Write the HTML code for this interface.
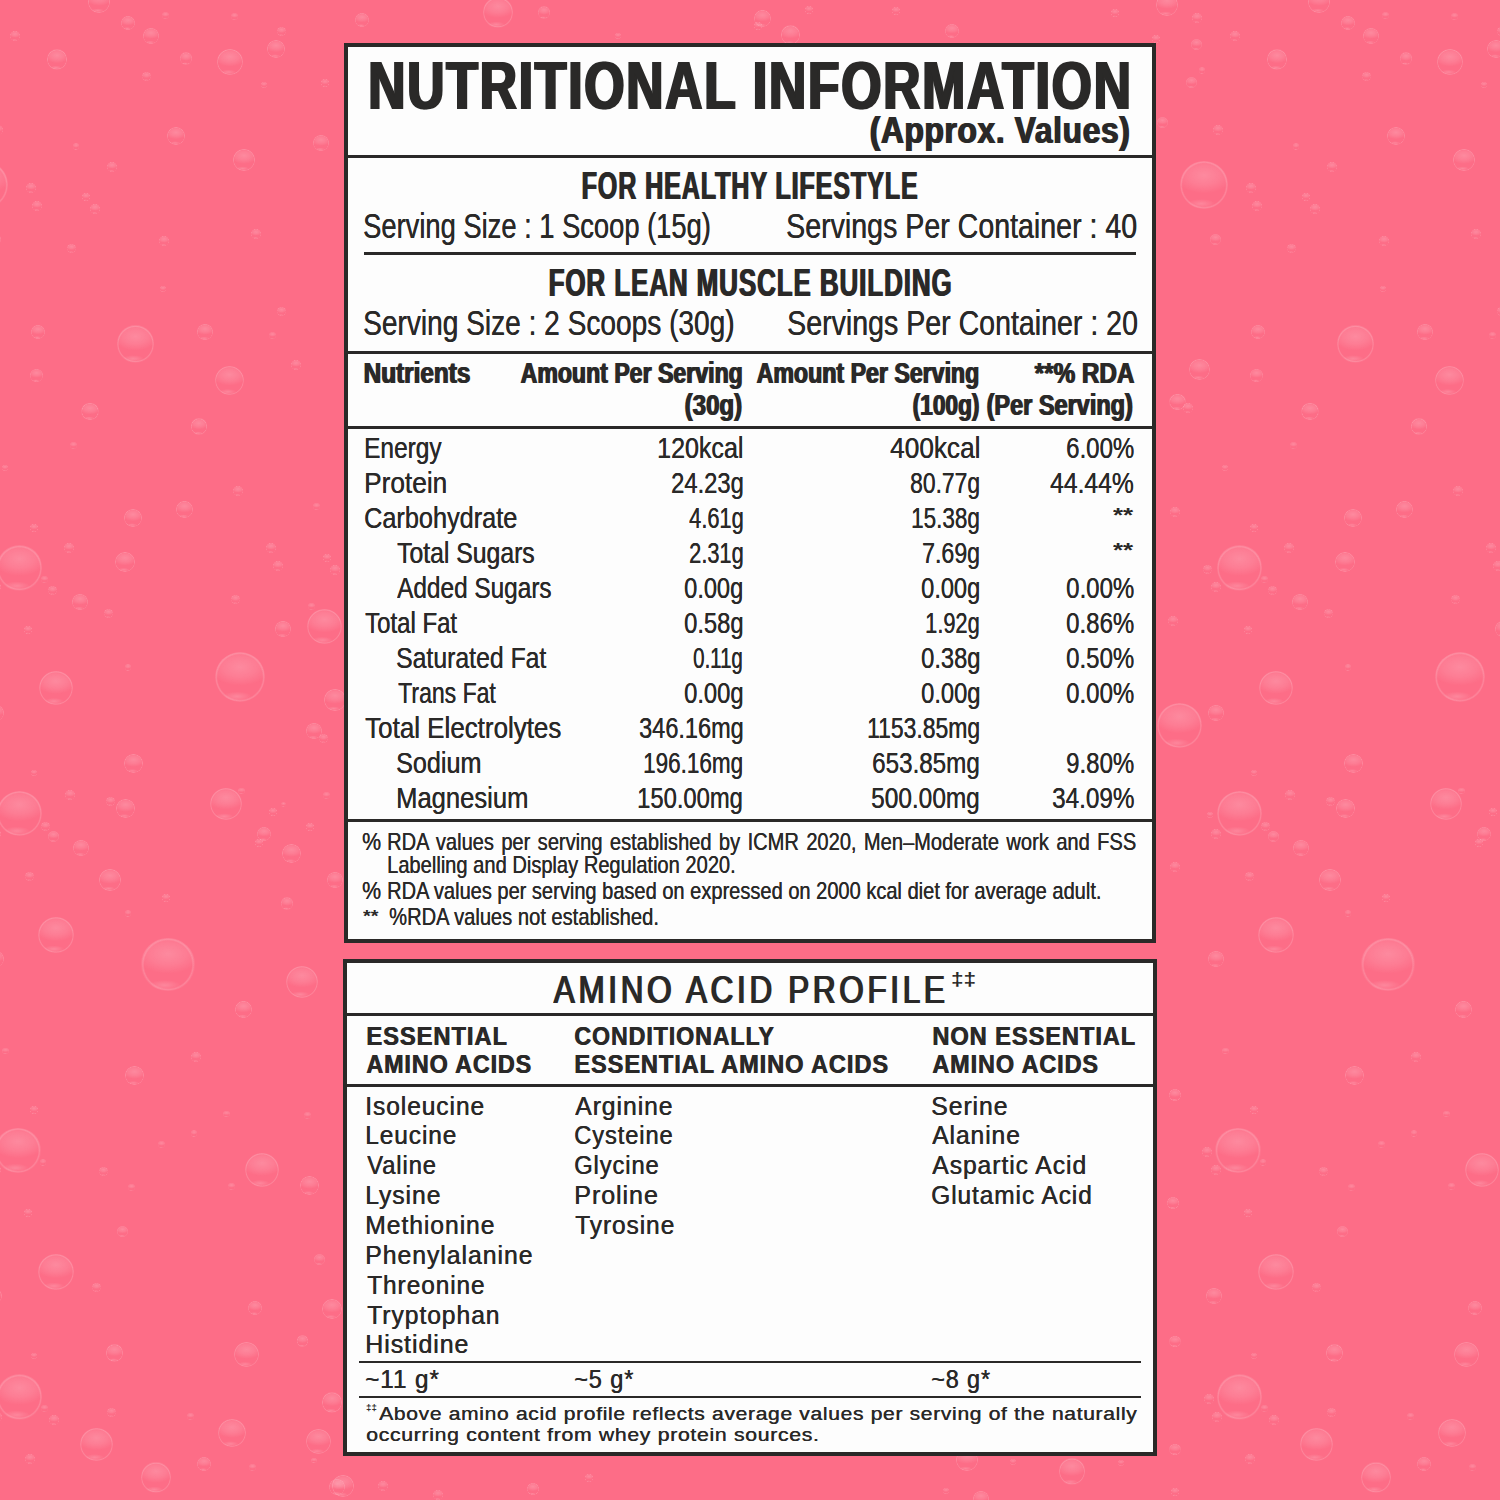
<!DOCTYPE html>
<html><head><meta charset="utf-8"><title>Nutritional Information</title>
<style>
html,body{margin:0;padding:0;}
body{width:1500px;height:1500px;overflow:hidden;position:relative;background:#fd6d87;font-family:"Liberation Sans",sans-serif;color:#2a2928;}
.panel{position:absolute;background:#fdfdfd;border:4px solid #2a2928;box-sizing:border-box;}
.ln{position:absolute;background:#2a2928;}
.b{position:absolute;border-radius:50%;
background:radial-gradient(ellipse 62% 38% at 50% 30%,rgba(255,255,255,.2),rgba(255,255,255,.11) 55%,rgba(255,255,255,0) 100%),
radial-gradient(ellipse 30% 10% at 44% 89%,rgba(255,255,255,.18),rgba(255,255,255,0) 100%),
radial-gradient(circle closest-side,rgba(255,255,255,0) 89%,rgba(255,255,255,.17) 95%,rgba(255,255,255,.05) 100%);}
#txt span{position:absolute;white-space:pre;line-height:1;transform-origin:0 0;}
</style></head>
<body>
<i class="b" style="left:46.5px;top:49.2px;width:20.4px;height:20.4px"></i>
<i class="b" style="left:1266.5px;top:49.2px;width:20.4px;height:20.4px"></i>
<i class="b" style="left:216.7px;top:49.4px;width:26.0px;height:26.0px"></i>
<i class="b" style="left:1436.7px;top:49.4px;width:26.0px;height:26.0px"></i>
<i class="b" style="left:267.0px;top:40.4px;width:18.0px;height:18.0px"></i>
<i class="b" style="left:1487.0px;top:40.4px;width:18.0px;height:18.0px"></i>
<i class="b" style="left:142.8px;top:28.3px;width:16.0px;height:16.0px"></i>
<i class="b" style="left:1362.8px;top:28.3px;width:16.0px;height:16.0px"></i>
<i class="b" style="left:121.0px;top:15.7px;width:14.0px;height:14.0px"></i>
<i class="b" style="left:1341.0px;top:15.7px;width:14.0px;height:14.0px"></i>
<i class="b" style="left:179.7px;top:52.2px;width:12.6px;height:12.6px"></i>
<i class="b" style="left:1399.7px;top:52.2px;width:12.6px;height:12.6px"></i>
<i class="b" style="left:87.6px;top:-8.7px;width:22.0px;height:22.0px"></i>
<i class="b" style="left:1307.6px;top:-8.7px;width:22.0px;height:22.0px"></i>
<i class="b" style="left:9.7px;top:31.3px;width:10.0px;height:10.0px"></i>
<i class="b" style="left:1229.7px;top:31.3px;width:10.0px;height:10.0px"></i>
<i class="b" style="left:162.0px;top:12.4px;width:7.0px;height:7.0px"></i>
<i class="b" style="left:1382.0px;top:12.4px;width:7.0px;height:7.0px"></i>
<i class="b" style="left:231.2px;top:12.8px;width:7.0px;height:7.0px"></i>
<i class="b" style="left:1451.2px;top:12.8px;width:7.0px;height:7.0px"></i>
<i class="b" style="left:276.5px;top:27.2px;width:9.0px;height:9.0px"></i>
<i class="b" style="left:1496.5px;top:27.2px;width:9.0px;height:9.0px"></i>
<i class="b" style="left:141.5px;top:71.5px;width:9.0px;height:9.0px"></i>
<i class="b" style="left:1361.5px;top:71.5px;width:9.0px;height:9.0px"></i>
<i class="b" style="left:261.0px;top:82.0px;width:6.0px;height:6.0px"></i>
<i class="b" style="left:1481.0px;top:82.0px;width:6.0px;height:6.0px"></i>
<i class="b" style="left:320.7px;top:78.8px;width:8.0px;height:8.0px"></i>
<i class="b" style="left:166.7px;top:126.6px;width:18.0px;height:18.0px"></i>
<i class="b" style="left:1386.7px;top:126.6px;width:18.0px;height:18.0px"></i>
<i class="b" style="left:312.9px;top:134.9px;width:16.0px;height:16.0px"></i>
<i class="b" style="left:232.8px;top:148.9px;width:22.0px;height:22.0px"></i>
<i class="b" style="left:1452.8px;top:148.9px;width:22.0px;height:22.0px"></i>
<i class="b" style="left:107.2px;top:161.7px;width:10.0px;height:10.0px"></i>
<i class="b" style="left:1327.2px;top:161.7px;width:10.0px;height:10.0px"></i>
<i class="b" style="left:72.6px;top:142.9px;width:6.8px;height:6.8px"></i>
<i class="b" style="left:1292.6px;top:142.9px;width:6.8px;height:6.8px"></i>
<i class="b" style="left:25.6px;top:183.2px;width:10.0px;height:10.0px"></i>
<i class="b" style="left:1245.6px;top:183.2px;width:10.0px;height:10.0px"></i>
<i class="b" style="left:32.4px;top:201.3px;width:10.0px;height:10.0px"></i>
<i class="b" style="left:1252.4px;top:201.3px;width:10.0px;height:10.0px"></i>
<i class="b" style="left:82.2px;top:193.3px;width:8.0px;height:8.0px"></i>
<i class="b" style="left:1302.2px;top:193.3px;width:8.0px;height:8.0px"></i>
<i class="b" style="left:90.2px;top:203.6px;width:10.0px;height:10.0px"></i>
<i class="b" style="left:1310.2px;top:203.6px;width:10.0px;height:10.0px"></i>
<i class="b" style="left:251.2px;top:228.6px;width:10.0px;height:10.0px"></i>
<i class="b" style="left:1471.2px;top:228.6px;width:10.0px;height:10.0px"></i>
<i class="b" style="left:159.4px;top:235.8px;width:10.0px;height:10.0px"></i>
<i class="b" style="left:1379.4px;top:235.8px;width:10.0px;height:10.0px"></i>
<i class="b" style="left:66.9px;top:243.8px;width:9.0px;height:9.0px"></i>
<i class="b" style="left:1286.9px;top:243.8px;width:9.0px;height:9.0px"></i>
<i class="b" style="left:160.3px;top:286.1px;width:6.0px;height:6.0px"></i>
<i class="b" style="left:1380.3px;top:286.1px;width:6.0px;height:6.0px"></i>
<i class="b" style="left:276.7px;top:307.3px;width:9.0px;height:9.0px"></i>
<i class="b" style="left:1496.7px;top:307.3px;width:9.0px;height:9.0px"></i>
<i class="b" style="left:30.7px;top:324.7px;width:14.6px;height:14.6px"></i>
<i class="b" style="left:1250.7px;top:324.7px;width:14.6px;height:14.6px"></i>
<i class="b" style="left:116.6px;top:325.3px;width:37.4px;height:37.4px"></i>
<i class="b" style="left:1336.6px;top:325.3px;width:37.4px;height:37.4px"></i>
<i class="b" style="left:197.2px;top:324.2px;width:16.0px;height:16.0px"></i>
<i class="b" style="left:1417.2px;top:324.2px;width:16.0px;height:16.0px"></i>
<i class="b" style="left:268.5px;top:332.1px;width:7.0px;height:7.0px"></i>
<i class="b" style="left:1488.5px;top:332.1px;width:7.0px;height:7.0px"></i>
<i class="b" style="left:215.0px;top:366.1px;width:29.4px;height:29.4px"></i>
<i class="b" style="left:1435.0px;top:366.1px;width:29.4px;height:29.4px"></i>
<i class="b" style="left:30.3px;top:368.9px;width:12.8px;height:12.8px"></i>
<i class="b" style="left:1250.3px;top:368.9px;width:12.8px;height:12.8px"></i>
<i class="b" style="left:81.3px;top:402.6px;width:17.4px;height:17.4px"></i>
<i class="b" style="left:1301.3px;top:402.6px;width:17.4px;height:17.4px"></i>
<i class="b" style="left:190.6px;top:417.8px;width:16.8px;height:16.8px"></i>
<i class="b" style="left:1410.6px;top:417.8px;width:16.8px;height:16.8px"></i>
<i class="b" style="left:291.0px;top:360.0px;width:10.0px;height:10.0px"></i>
<i class="b" style="left:70.3px;top:442.0px;width:6.8px;height:6.8px"></i>
<i class="b" style="left:1290.3px;top:442.0px;width:6.8px;height:6.8px"></i>
<i class="b" style="left:1.5px;top:465.0px;width:6.0px;height:6.0px"></i>
<i class="b" style="left:1221.5px;top:465.0px;width:6.0px;height:6.0px"></i>
<i class="b" style="left:232.6px;top:485.8px;width:10.0px;height:10.0px"></i>
<i class="b" style="left:1452.6px;top:485.8px;width:10.0px;height:10.0px"></i>
<i class="b" style="left:312.9px;top:503.3px;width:6.8px;height:6.8px"></i>
<i class="b" style="left:176.2px;top:501.0px;width:17.2px;height:17.2px"></i>
<i class="b" style="left:1396.2px;top:501.0px;width:17.2px;height:17.2px"></i>
<i class="b" style="left:123.6px;top:508.5px;width:18.0px;height:18.0px"></i>
<i class="b" style="left:1343.6px;top:508.5px;width:18.0px;height:18.0px"></i>
<i class="b" style="left:29.6px;top:523.8px;width:8.0px;height:8.0px"></i>
<i class="b" style="left:1249.6px;top:523.8px;width:8.0px;height:8.0px"></i>
<i class="b" style="left:-3.4px;top:545.2px;width:45.4px;height:45.4px"></i>
<i class="b" style="left:1216.6px;top:545.2px;width:45.4px;height:45.4px"></i>
<i class="b" style="left:64.2px;top:543.2px;width:10.0px;height:10.0px"></i>
<i class="b" style="left:1284.2px;top:543.2px;width:10.0px;height:10.0px"></i>
<i class="b" style="left:114.7px;top:551.8px;width:20.0px;height:20.0px"></i>
<i class="b" style="left:1334.7px;top:551.8px;width:20.0px;height:20.0px"></i>
<i class="b" style="left:266.0px;top:543.2px;width:10.0px;height:10.0px"></i>
<i class="b" style="left:1486.0px;top:543.2px;width:10.0px;height:10.0px"></i>
<i class="b" style="left:272.8px;top:561.3px;width:10.0px;height:10.0px"></i>
<i class="b" style="left:1492.8px;top:561.3px;width:10.0px;height:10.0px"></i>
<i class="b" style="left:322.5px;top:554.0px;width:8.0px;height:8.0px"></i>
<i class="b" style="left:330.0px;top:564.5px;width:10.0px;height:10.0px"></i>
<i class="b" style="left:40.8px;top:575.8px;width:6.8px;height:6.8px"></i>
<i class="b" style="left:1260.8px;top:575.8px;width:6.8px;height:6.8px"></i>
<i class="b" style="left:48.1px;top:586.1px;width:9.0px;height:9.0px"></i>
<i class="b" style="left:1268.1px;top:586.1px;width:9.0px;height:9.0px"></i>
<i class="b" style="left:71.8px;top:593.9px;width:16.0px;height:16.0px"></i>
<i class="b" style="left:1291.8px;top:593.9px;width:16.0px;height:16.0px"></i>
<i class="b" style="left:231.3px;top:595.1px;width:9.0px;height:9.0px"></i>
<i class="b" style="left:1451.3px;top:595.1px;width:9.0px;height:9.0px"></i>
<i class="b" style="left:104.3px;top:608.7px;width:9.0px;height:9.0px"></i>
<i class="b" style="left:1324.3px;top:608.7px;width:9.0px;height:9.0px"></i>
<i class="b" style="left:24.3px;top:626.2px;width:8.0px;height:8.0px"></i>
<i class="b" style="left:1244.3px;top:626.2px;width:8.0px;height:8.0px"></i>
<i class="b" style="left:274.6px;top:620.7px;width:16.8px;height:16.8px"></i>
<i class="b" style="left:1494.6px;top:620.7px;width:16.8px;height:16.8px"></i>
<i class="b" style="left:306.6px;top:609.1px;width:35.4px;height:35.4px"></i>
<i class="b" style="left:308.4px;top:603.0px;width:6.8px;height:6.8px"></i>
<i class="b" style="left:215.0px;top:652.0px;width:50.0px;height:50.0px"></i>
<i class="b" style="left:1435.0px;top:652.0px;width:50.0px;height:50.0px"></i>
<i class="b" style="left:38.6px;top:671.0px;width:34.0px;height:34.0px"></i>
<i class="b" style="left:1258.6px;top:671.0px;width:34.0px;height:34.0px"></i>
<i class="b" style="left:124.6px;top:664.3px;width:6.8px;height:6.8px"></i>
<i class="b" style="left:1344.6px;top:664.3px;width:6.8px;height:6.8px"></i>
<i class="b" style="left:323.5px;top:689.4px;width:22.0px;height:22.0px"></i>
<i class="b" style="left:306.0px;top:723.0px;width:16.0px;height:16.0px"></i>
<i class="b" style="left:319.3px;top:734.0px;width:9.0px;height:9.0px"></i>
<i class="b" style="left:124.3px;top:753.9px;width:19.0px;height:19.0px"></i>
<i class="b" style="left:1344.3px;top:753.9px;width:19.0px;height:19.0px"></i>
<i class="b" style="left:30.6px;top:769.6px;width:6.8px;height:6.8px"></i>
<i class="b" style="left:1250.6px;top:769.6px;width:6.8px;height:6.8px"></i>
<i class="b" style="left:-3.4px;top:791.1px;width:45.4px;height:45.4px"></i>
<i class="b" style="left:1216.6px;top:791.1px;width:45.4px;height:45.4px"></i>
<i class="b" style="left:65.3px;top:789.5px;width:10.0px;height:10.0px"></i>
<i class="b" style="left:1285.3px;top:789.5px;width:10.0px;height:10.0px"></i>
<i class="b" style="left:106.2px;top:796.8px;width:9.0px;height:9.0px"></i>
<i class="b" style="left:1326.2px;top:796.8px;width:9.0px;height:9.0px"></i>
<i class="b" style="left:116.4px;top:798.6px;width:19.0px;height:19.0px"></i>
<i class="b" style="left:1336.4px;top:798.6px;width:19.0px;height:19.0px"></i>
<i class="b" style="left:209.6px;top:787.6px;width:32.0px;height:32.0px"></i>
<i class="b" style="left:1429.6px;top:787.6px;width:32.0px;height:32.0px"></i>
<i class="b" style="left:238.1px;top:787.6px;width:6.8px;height:6.8px"></i>
<i class="b" style="left:1458.1px;top:787.6px;width:6.8px;height:6.8px"></i>
<i class="b" style="left:280.7px;top:802.0px;width:5.4px;height:5.4px"></i>
<i class="b" style="left:269.2px;top:807.5px;width:8.0px;height:8.0px"></i>
<i class="b" style="left:1489.2px;top:807.5px;width:8.0px;height:8.0px"></i>
<i class="b" style="left:323.1px;top:792.2px;width:6.8px;height:6.8px"></i>
<i class="b" style="left:257.2px;top:827.2px;width:14.0px;height:14.0px"></i>
<i class="b" style="left:1477.2px;top:827.2px;width:14.0px;height:14.0px"></i>
<i class="b" style="left:254.5px;top:839.3px;width:8.0px;height:8.0px"></i>
<i class="b" style="left:1474.5px;top:839.3px;width:8.0px;height:8.0px"></i>
<i class="b" style="left:305.5px;top:823.0px;width:8.0px;height:8.0px"></i>
<i class="b" style="left:281.9px;top:844.0px;width:19.0px;height:19.0px"></i>
<i class="b" style="left:40.9px;top:821.8px;width:9.0px;height:9.0px"></i>
<i class="b" style="left:1260.9px;top:821.8px;width:9.0px;height:9.0px"></i>
<i class="b" style="left:47.6px;top:830.8px;width:11.4px;height:11.4px"></i>
<i class="b" style="left:1267.6px;top:830.8px;width:11.4px;height:11.4px"></i>
<i class="b" style="left:72.5px;top:839.8px;width:16.0px;height:16.0px"></i>
<i class="b" style="left:1292.5px;top:839.8px;width:16.0px;height:16.0px"></i>
<i class="b" style="left:99.0px;top:868.5px;width:22.0px;height:22.0px"></i>
<i class="b" style="left:1319.0px;top:868.5px;width:22.0px;height:22.0px"></i>
<i class="b" style="left:25.0px;top:872.3px;width:9.0px;height:9.0px"></i>
<i class="b" style="left:1245.0px;top:872.3px;width:9.0px;height:9.0px"></i>
<i class="b" style="left:161.5px;top:894.1px;width:8.0px;height:8.0px"></i>
<i class="b" style="left:1381.5px;top:894.1px;width:8.0px;height:8.0px"></i>
<i class="b" style="left:124.6px;top:910.2px;width:6.8px;height:6.8px"></i>
<i class="b" style="left:1344.6px;top:910.2px;width:6.8px;height:6.8px"></i>
<i class="b" style="left:280.5px;top:897.1px;width:12.6px;height:12.6px"></i>
<i class="b" style="left:326.5px;top:871.5px;width:16.0px;height:16.0px"></i>
<i class="b" style="left:38.2px;top:917.1px;width:36.0px;height:36.0px"></i>
<i class="b" style="left:1258.2px;top:917.1px;width:36.0px;height:36.0px"></i>
<i class="b" style="left:141.0px;top:937.8px;width:53.6px;height:53.6px"></i>
<i class="b" style="left:1361.0px;top:937.8px;width:53.6px;height:53.6px"></i>
<i class="b" style="left:285.6px;top:965.6px;width:32.0px;height:32.0px"></i>
<i class="b" style="left:235.2px;top:1001.3px;width:17.2px;height:17.2px"></i>
<i class="b" style="left:1455.2px;top:1001.3px;width:17.2px;height:17.2px"></i>
<i class="b" style="left:125.4px;top:1066.1px;width:19.0px;height:19.0px"></i>
<i class="b" style="left:1345.4px;top:1066.1px;width:19.0px;height:19.0px"></i>
<i class="b" style="left:191.1px;top:1052.4px;width:10.0px;height:10.0px"></i>
<i class="b" style="left:1411.1px;top:1052.4px;width:10.0px;height:10.0px"></i>
<i class="b" style="left:29.6px;top:1105.6px;width:8.0px;height:8.0px"></i>
<i class="b" style="left:1249.6px;top:1105.6px;width:8.0px;height:8.0px"></i>
<i class="b" style="left:223.4px;top:1110.7px;width:6.8px;height:6.8px"></i>
<i class="b" style="left:1443.4px;top:1110.7px;width:6.8px;height:6.8px"></i>
<i class="b" style="left:303.9px;top:1111.8px;width:6.8px;height:6.8px"></i>
<i class="b" style="left:-4.6px;top:1127.7px;width:45.4px;height:45.4px"></i>
<i class="b" style="left:1215.4px;top:1127.7px;width:45.4px;height:45.4px"></i>
<i class="b" style="left:190.5px;top:1130.0px;width:6.8px;height:6.8px"></i>
<i class="b" style="left:1410.5px;top:1130.0px;width:6.8px;height:6.8px"></i>
<i class="b" style="left:158.1px;top:1141.3px;width:6.8px;height:6.8px"></i>
<i class="b" style="left:1378.1px;top:1141.3px;width:6.8px;height:6.8px"></i>
<i class="b" style="left:244.9px;top:1152.7px;width:34.0px;height:34.0px"></i>
<i class="b" style="left:1464.9px;top:1152.7px;width:34.0px;height:34.0px"></i>
<i class="b" style="left:300.0px;top:1176.0px;width:19.0px;height:19.0px"></i>
<i class="b" style="left:227.9px;top:1183.3px;width:6.8px;height:6.8px"></i>
<i class="b" style="left:1447.9px;top:1183.3px;width:6.8px;height:6.8px"></i>
<i class="b" style="left:99.4px;top:1167.0px;width:9.0px;height:9.0px"></i>
<i class="b" style="left:1319.4px;top:1167.0px;width:9.0px;height:9.0px"></i>
<i class="b" style="left:128.1px;top:1183.9px;width:6.8px;height:6.8px"></i>
<i class="b" style="left:1348.1px;top:1183.9px;width:6.8px;height:6.8px"></i>
<i class="b" style="left:39.7px;top:1159.0px;width:6.8px;height:6.8px"></i>
<i class="b" style="left:1259.7px;top:1159.0px;width:6.8px;height:6.8px"></i>
<i class="b" style="left:24.3px;top:1208.7px;width:8.0px;height:8.0px"></i>
<i class="b" style="left:1244.3px;top:1208.7px;width:8.0px;height:8.0px"></i>
<i class="b" style="left:116.7px;top:1225.6px;width:11.4px;height:11.4px"></i>
<i class="b" style="left:1336.7px;top:1225.6px;width:11.4px;height:11.4px"></i>
<i class="b" style="left:37.6px;top:1253.7px;width:36.0px;height:36.0px"></i>
<i class="b" style="left:1257.6px;top:1253.7px;width:36.0px;height:36.0px"></i>
<i class="b" style="left:91.9px;top:1283.1px;width:9.0px;height:9.0px"></i>
<i class="b" style="left:1311.9px;top:1283.1px;width:9.0px;height:9.0px"></i>
<i class="b" style="left:314.0px;top:1253.5px;width:11.4px;height:11.4px"></i>
<i class="b" style="left:247.8px;top:1300.7px;width:14.6px;height:14.6px"></i>
<i class="b" style="left:1467.8px;top:1300.7px;width:14.6px;height:14.6px"></i>
<i class="b" style="left:322.0px;top:1298.9px;width:20.4px;height:20.4px"></i>
<i class="b" style="left:297.0px;top:1335.2px;width:11.4px;height:11.4px"></i>
<i class="b" style="left:233.5px;top:1341.5px;width:25.0px;height:25.0px"></i>
<i class="b" style="left:1453.5px;top:1341.5px;width:25.0px;height:25.0px"></i>
<i class="b" style="left:105.9px;top:1344.4px;width:17.2px;height:17.2px"></i>
<i class="b" style="left:1325.9px;top:1344.4px;width:17.2px;height:17.2px"></i>
<i class="b" style="left:30.6px;top:1352.6px;width:6.8px;height:6.8px"></i>
<i class="b" style="left:1250.6px;top:1352.6px;width:6.8px;height:6.8px"></i>
<i class="b" style="left:-3.4px;top:1374.2px;width:45.4px;height:45.4px"></i>
<i class="b" style="left:1216.6px;top:1374.2px;width:45.4px;height:45.4px"></i>
<i class="b" style="left:40.8px;top:1404.8px;width:6.8px;height:6.8px"></i>
<i class="b" style="left:1260.8px;top:1404.8px;width:6.8px;height:6.8px"></i>
<i class="b" style="left:48.7px;top:1414.6px;width:10.0px;height:10.0px"></i>
<i class="b" style="left:1268.7px;top:1414.6px;width:10.0px;height:10.0px"></i>
<i class="b" style="left:106.6px;top:1408.3px;width:9.0px;height:9.0px"></i>
<i class="b" style="left:1326.6px;top:1408.3px;width:9.0px;height:9.0px"></i>
<i class="b" style="left:80.1px;top:1428.2px;width:32.6px;height:32.6px"></i>
<i class="b" style="left:1300.1px;top:1428.2px;width:32.6px;height:32.6px"></i>
<i class="b" style="left:24.5px;top:1454.3px;width:10.0px;height:10.0px"></i>
<i class="b" style="left:1244.5px;top:1454.3px;width:10.0px;height:10.0px"></i>
<i class="b" style="left:218.4px;top:1419.2px;width:28.0px;height:28.0px"></i>
<i class="b" style="left:1438.4px;top:1419.2px;width:28.0px;height:28.0px"></i>
<i class="b" style="left:187.1px;top:1412.8px;width:6.8px;height:6.8px"></i>
<i class="b" style="left:1407.1px;top:1412.8px;width:6.8px;height:6.8px"></i>
<i class="b" style="left:322.0px;top:1392.4px;width:20.4px;height:20.4px"></i>
<i class="b" style="left:306.1px;top:1429.1px;width:25.0px;height:25.0px"></i>
<i class="b" style="left:311.3px;top:1457.7px;width:5.4px;height:5.4px"></i>
<i class="b" style="left:196.8px;top:1456.9px;width:14.6px;height:14.6px"></i>
<i class="b" style="left:1416.8px;top:1456.9px;width:14.6px;height:14.6px"></i>
<i class="b" style="left:249.4px;top:1463.8px;width:6.8px;height:6.8px"></i>
<i class="b" style="left:1469.4px;top:1463.8px;width:6.8px;height:6.8px"></i>
<i class="b" style="left:140.6px;top:1462.0px;width:30.8px;height:30.8px"></i>
<i class="b" style="left:1360.6px;top:1462.0px;width:30.8px;height:30.8px"></i>
<i class="b" style="left:328.7px;top:1478.5px;width:16.0px;height:16.0px"></i>
<i class="b" style="left:1155.8px;top:-6.5px;width:22.0px;height:22.0px"></i>
<i class="b" style="left:1192.4px;top:13.1px;width:10.0px;height:10.0px"></i>
<i class="b" style="left:1190.6px;top:38.5px;width:11.4px;height:11.4px"></i>
<i class="b" style="left:1186.0px;top:77.1px;width:11.4px;height:11.4px"></i>
<i class="b" style="left:1198.6px;top:66.9px;width:6.8px;height:6.8px"></i>
<i class="b" style="left:1156.6px;top:116.7px;width:11.4px;height:11.4px"></i>
<i class="b" style="left:-39.6px;top:161.0px;width:47.6px;height:47.6px"></i>
<i class="b" style="left:1180.4px;top:161.0px;width:47.6px;height:47.6px"></i>
<i class="b" style="left:-10.1px;top:233.5px;width:11.4px;height:11.4px"></i>
<i class="b" style="left:1209.9px;top:233.5px;width:11.4px;height:11.4px"></i>
<i class="b" style="left:-7.2px;top:125.4px;width:10.0px;height:10.0px"></i>
<i class="b" style="left:1212.8px;top:125.4px;width:10.0px;height:10.0px"></i>
<i class="b" style="left:1189.2px;top:358.7px;width:21.0px;height:21.0px"></i>
<i class="b" style="left:1169.3px;top:393.6px;width:16.4px;height:16.4px"></i>
<i class="b" style="left:1183.0px;top:402.7px;width:10.0px;height:10.0px"></i>
<i class="b" style="left:1170.2px;top:507.2px;width:10.0px;height:10.0px"></i>
<i class="b" style="left:1203.1px;top:565.1px;width:9.4px;height:9.4px"></i>
<i class="b" style="left:-9.5px;top:582.3px;width:10.0px;height:10.0px"></i>
<i class="b" style="left:1210.5px;top:582.3px;width:10.0px;height:10.0px"></i>
<i class="b" style="left:1167.8px;top:616.2px;width:10.0px;height:10.0px"></i>
<i class="b" style="left:1156.6px;top:702.7px;width:45.4px;height:45.4px"></i>
<i class="b" style="left:-12.4px;top:704.9px;width:16.0px;height:16.0px"></i>
<i class="b" style="left:1207.6px;top:704.9px;width:16.0px;height:16.0px"></i>
<i class="b" style="left:1169.7px;top:862.1px;width:10.0px;height:10.0px"></i>
<i class="b" style="left:1206.5px;top:811.5px;width:6.8px;height:6.8px"></i>
<i class="b" style="left:-9.4px;top:829.2px;width:10.0px;height:10.0px"></i>
<i class="b" style="left:1210.6px;top:829.2px;width:10.0px;height:10.0px"></i>
<i class="b" style="left:-12.4px;top:950.9px;width:16.0px;height:16.0px"></i>
<i class="b" style="left:1207.6px;top:950.9px;width:16.0px;height:16.0px"></i>
<i class="b" style="left:1168.8px;top:1089.0px;width:11.8px;height:11.8px"></i>
<i class="b" style="left:2.0px;top:1047.5px;width:6.6px;height:6.6px"></i>
<i class="b" style="left:1222.0px;top:1047.5px;width:6.6px;height:6.6px"></i>
<i class="b" style="left:1202.4px;top:1147.1px;width:10.0px;height:10.0px"></i>
<i class="b" style="left:-9.5px;top:1165.1px;width:10.0px;height:10.0px"></i>
<i class="b" style="left:1210.5px;top:1165.1px;width:10.0px;height:10.0px"></i>
<i class="b" style="left:1167.1px;top:1196.8px;width:11.8px;height:11.8px"></i>
<i class="b" style="left:-14.3px;top:1287.7px;width:16.4px;height:16.4px"></i>
<i class="b" style="left:1205.7px;top:1287.7px;width:16.4px;height:16.4px"></i>
<i class="b" style="left:1168.8px;top:1335.7px;width:11.8px;height:11.8px"></i>
<i class="b" style="left:1204.0px;top:1393.8px;width:10.0px;height:10.0px"></i>
<i class="b" style="left:-7.8px;top:1411.7px;width:10.0px;height:10.0px"></i>
<i class="b" style="left:1212.2px;top:1411.7px;width:10.0px;height:10.0px"></i>
<i class="b" style="left:1168.8px;top:1443.5px;width:11.8px;height:11.8px"></i>
<i class="b" style="left:1170.7px;top:1487.9px;width:8.0px;height:8.0px"></i>
<i class="b" style="left:482.6px;top:-2.8px;width:30.8px;height:30.8px"></i>
<i class="b" style="left:538.0px;top:6.4px;width:12.4px;height:12.4px"></i>
<i class="b" style="left:355.2px;top:12.6px;width:14.0px;height:14.0px"></i>
<i class="b" style="left:615.4px;top:33.4px;width:6.0px;height:6.0px"></i>
<i class="b" style="left:754.2px;top:9.8px;width:16.8px;height:16.8px"></i>
<i class="b" style="left:754.4px;top:21.8px;width:8.0px;height:8.0px"></i>
<i class="b" style="left:780.8px;top:25.2px;width:19.6px;height:19.6px"></i>
<i class="b" style="left:804.8px;top:5.8px;width:8.0px;height:8.0px"></i>
<i class="b" style="left:891.6px;top:6.6px;width:8.0px;height:8.0px"></i>
<i class="b" style="left:944.6px;top:23.8px;width:14.0px;height:14.0px"></i>
<i class="b" style="left:1111.4px;top:8.6px;width:8.0px;height:8.0px"></i>
<i class="b" style="left:1152.0px;top:35.2px;width:8.0px;height:8.0px"></i>
<i class="b" style="left:331.6px;top:1475.4px;width:22.0px;height:22.0px"></i>
<i class="b" style="left:378.2px;top:1481.4px;width:10.0px;height:10.0px"></i>
<i class="b" style="left:432.8px;top:1489.8px;width:10.0px;height:10.0px"></i>
<i class="b" style="left:526.8px;top:1483.0px;width:12.4px;height:12.4px"></i>
<i class="b" style="left:585.0px;top:1474.0px;width:8.0px;height:8.0px"></i>
<i class="b" style="left:956.0px;top:1448.8px;width:22.0px;height:22.0px"></i>
<i class="b" style="left:1058.6px;top:1458.4px;width:26.8px;height:26.8px"></i>
<i class="b" style="left:972.6px;top:1490.6px;width:16.8px;height:16.8px"></i>
<i class="b" style="left:1010.2px;top:1458.8px;width:6.0px;height:6.0px"></i>
<i class="b" style="left:943.0px;top:1487.6px;width:6.0px;height:6.0px"></i>
<i class="b" style="left:1118.0px;top:1459.6px;width:6.0px;height:6.0px"></i>
<div class="panel" style="left:344px;top:43px;width:812px;height:900px;"></div>
<div class="ln" style="left:348px;top:155px;width:804px;height:3px;"></div>
<div class="ln" style="left:364px;top:252px;width:772px;height:3px;"></div>
<div class="ln" style="left:348px;top:351px;width:804px;height:3px;"></div>
<div class="ln" style="left:348px;top:426px;width:804px;height:3px;"></div>
<div class="ln" style="left:348px;top:819px;width:804px;height:3px;"></div>

<div class="panel" style="left:343px;top:959px;width:814px;height:497px;"></div>
<div class="ln" style="left:347px;top:1013px;width:806px;height:3px;"></div>
<div class="ln" style="left:347px;top:1084px;width:806px;height:3px;"></div>
<div class="ln" style="left:359px;top:1360.5px;width:782px;height:2px;"></div>
<div class="ln" style="left:359px;top:1396px;width:782px;height:2px;"></div>
<div id="txt">
<span style="left:367.02px;top:50.60px;font-size:69.19px;font-weight:700;transform:scaleX(0.7441);letter-spacing:2.5px;text-shadow:3.46px 0 0 currentColor;">NUTRITIONAL INFORMATION</span>
<span style="left:869.46px;top:111.60px;font-size:37.50px;font-weight:700;transform:scaleX(0.8447);letter-spacing:0.8px;text-shadow:1.69px 0 0 currentColor;">(Approx. Values)</span>
<span style="left:581.18px;top:166.60px;font-size:38.08px;font-weight:700;transform:scaleX(0.6604);letter-spacing:1.3px;text-shadow:1.71px 0 0 currentColor;">FOR HEALTHY LIFESTYLE</span>
<span style="left:363.03px;top:209.30px;font-size:35.47px;transform:scaleX(0.7701);text-shadow:0.43px 0 0 currentColor;">Serving Size : 1 Scoop (15g)</span>
<span style="left:786.49px;top:209.30px;font-size:35.47px;transform:scaleX(0.8056);text-shadow:0.43px 0 0 currentColor;">Servings Per Container : 40</span>
<span style="left:547.83px;top:264.40px;font-size:38.08px;font-weight:700;transform:scaleX(0.6827);letter-spacing:1.3px;text-shadow:1.71px 0 0 currentColor;">FOR LEAN MUSCLE BUILDING</span>
<span style="left:363.01px;top:306.20px;font-size:35.47px;transform:scaleX(0.7916);text-shadow:0.43px 0 0 currentColor;">Serving Size : 2 Scoops (30g)</span>
<span style="left:786.69px;top:306.20px;font-size:35.47px;transform:scaleX(0.8051);text-shadow:0.43px 0 0 currentColor;">Servings Per Container : 20</span>
<span style="left:363.48px;top:358.20px;font-size:29.94px;font-weight:700;transform:scaleX(0.8121);text-shadow:1.65px 0 0 currentColor;">Nutrients</span>
<span style="left:519.80px;top:358.20px;font-size:29.94px;font-weight:700;transform:scaleX(0.7718);text-shadow:1.65px 0 0 currentColor;">Amount Per Serving</span>
<span style="left:684.20px;top:390.20px;font-size:29.94px;font-weight:700;transform:scaleX(0.8033);text-shadow:1.65px 0 0 currentColor;">(30g)</span>
<span style="left:756.20px;top:358.20px;font-size:29.94px;font-weight:700;transform:scaleX(0.7736);text-shadow:1.65px 0 0 currentColor;">Amount Per Serving</span>
<span style="left:911.74px;top:390.20px;font-size:29.94px;font-weight:700;transform:scaleX(0.7581);text-shadow:1.65px 0 0 currentColor;">(100g)</span>
<span style="left:1034.30px;top:358.20px;font-size:29.94px;font-weight:700;transform:scaleX(0.8105);text-shadow:1.65px 0 0 currentColor;">**% RDA</span>
<span style="left:986.32px;top:390.20px;font-size:29.94px;font-weight:700;transform:scaleX(0.7844);text-shadow:1.65px 0 0 currentColor;">(Per Serving)</span>
<span style="left:363.95px;top:433.00px;font-size:29.65px;transform:scaleX(0.8242);text-shadow:0.36px 0 0 currentColor;">Energy</span>
<span style="left:657.11px;top:433.00px;font-size:29.65px;transform:scaleX(0.8450);text-shadow:0.36px 0 0 currentColor;">120kcal</span>
<span style="left:890.00px;top:433.00px;font-size:29.65px;transform:scaleX(0.8837);text-shadow:0.36px 0 0 currentColor;">400kcal</span>
<span style="left:1065.79px;top:433.00px;font-size:29.65px;transform:scaleX(0.8116);text-shadow:0.36px 0 0 currentColor;">6.00%</span>
<span style="left:363.83px;top:468.00px;font-size:29.65px;transform:scaleX(0.8845);text-shadow:0.36px 0 0 currentColor;">Protein</span>
<span style="left:670.60px;top:468.00px;font-size:29.65px;transform:scaleX(0.8020);text-shadow:0.36px 0 0 currentColor;">24.23g</span>
<span style="left:910.23px;top:468.00px;font-size:29.65px;transform:scaleX(0.7704);text-shadow:0.36px 0 0 currentColor;">80.77g</span>
<span style="left:1050.40px;top:468.00px;font-size:29.65px;transform:scaleX(0.8316);text-shadow:0.36px 0 0 currentColor;">44.44%</span>
<span style="left:364.45px;top:503.00px;font-size:29.65px;transform:scaleX(0.8528);text-shadow:0.36px 0 0 currentColor;">Carbohydrate</span>
<span style="left:688.60px;top:503.00px;font-size:29.65px;transform:scaleX(0.7365);text-shadow:0.36px 0 0 currentColor;">4.61g</span>
<span style="left:911.28px;top:503.00px;font-size:29.65px;transform:scaleX(0.7586);text-shadow:0.36px 0 0 currentColor;">15.38g</span>
<span style="left:1112.80px;top:504.80px;font-size:20.00px;font-weight:700;transform:scaleX(1.2925);">**</span>
<span style="left:396.80px;top:538.00px;font-size:29.65px;transform:scaleX(0.8345);text-shadow:0.36px 0 0 currentColor;">Total Sugars</span>
<span style="left:688.66px;top:538.00px;font-size:29.65px;transform:scaleX(0.7357);text-shadow:0.36px 0 0 currentColor;">2.31g</span>
<span style="left:922.22px;top:538.00px;font-size:29.65px;transform:scaleX(0.7801);text-shadow:0.36px 0 0 currentColor;">7.69g</span>
<span style="left:1112.80px;top:539.80px;font-size:20.00px;font-weight:700;transform:scaleX(1.2925);">**</span>
<span style="left:397.10px;top:573.00px;font-size:29.65px;transform:scaleX(0.8223);text-shadow:0.36px 0 0 currentColor;">Added Sugars</span>
<span style="left:684.20px;top:573.00px;font-size:29.65px;transform:scaleX(0.7967);text-shadow:0.36px 0 0 currentColor;">0.00g</span>
<span style="left:921.00px;top:573.00px;font-size:29.65px;transform:scaleX(0.7967);text-shadow:0.36px 0 0 currentColor;">0.00g</span>
<span style="left:1065.79px;top:573.00px;font-size:29.65px;transform:scaleX(0.8116);text-shadow:0.36px 0 0 currentColor;">0.00%</span>
<span style="left:364.80px;top:608.00px;font-size:29.65px;transform:scaleX(0.8093);text-shadow:0.36px 0 0 currentColor;">Total Fat</span>
<span style="left:683.80px;top:608.00px;font-size:29.65px;transform:scaleX(0.8023);text-shadow:0.36px 0 0 currentColor;">0.58g</span>
<span style="left:925.43px;top:608.00px;font-size:29.65px;transform:scaleX(0.7362);text-shadow:0.36px 0 0 currentColor;">1.92g</span>
<span style="left:1065.89px;top:608.00px;font-size:29.65px;transform:scaleX(0.8104);text-shadow:0.36px 0 0 currentColor;">0.86%</span>
<span style="left:396.26px;top:643.00px;font-size:29.65px;transform:scaleX(0.8363);text-shadow:0.36px 0 0 currentColor;">Saturated Fat</span>
<span style="left:693.41px;top:643.00px;font-size:29.65px;transform:scaleX(0.6915);text-shadow:0.36px 0 0 currentColor;">0.11g</span>
<span style="left:920.80px;top:643.00px;font-size:29.65px;transform:scaleX(0.7995);text-shadow:0.36px 0 0 currentColor;">0.38g</span>
<span style="left:1065.89px;top:643.00px;font-size:29.65px;transform:scaleX(0.8104);text-shadow:0.36px 0 0 currentColor;">0.50%</span>
<span style="left:397.50px;top:678.00px;font-size:29.65px;transform:scaleX(0.7773);text-shadow:0.36px 0 0 currentColor;">Trans Fat</span>
<span style="left:683.80px;top:678.00px;font-size:29.65px;transform:scaleX(0.8023);text-shadow:0.36px 0 0 currentColor;">0.00g</span>
<span style="left:920.80px;top:678.00px;font-size:29.65px;transform:scaleX(0.7995);text-shadow:0.36px 0 0 currentColor;">0.00g</span>
<span style="left:1065.89px;top:678.00px;font-size:29.65px;transform:scaleX(0.8104);text-shadow:0.36px 0 0 currentColor;">0.00%</span>
<span style="left:364.80px;top:713.00px;font-size:29.65px;transform:scaleX(0.8758);text-shadow:0.36px 0 0 currentColor;">Total Electrolytes</span>
<span style="left:638.71px;top:713.00px;font-size:29.65px;transform:scaleX(0.7933);text-shadow:0.36px 0 0 currentColor;">346.16mg</span>
<span style="left:867.15px;top:713.00px;font-size:29.65px;transform:scaleX(0.7728);text-shadow:0.36px 0 0 currentColor;">1153.85mg</span>
<span style="left:396.25px;top:748.00px;font-size:29.65px;transform:scaleX(0.8486);text-shadow:0.36px 0 0 currentColor;">Sodium</span>
<span style="left:643.18px;top:748.00px;font-size:29.65px;transform:scaleX(0.7591);text-shadow:0.36px 0 0 currentColor;">196.16mg</span>
<span style="left:872.48px;top:748.00px;font-size:29.65px;transform:scaleX(0.8165);text-shadow:0.36px 0 0 currentColor;">653.85mg</span>
<span style="left:1065.89px;top:748.00px;font-size:29.65px;transform:scaleX(0.8104);text-shadow:0.36px 0 0 currentColor;">9.80%</span>
<span style="left:395.77px;top:783.00px;font-size:29.65px;transform:scaleX(0.8634);text-shadow:0.36px 0 0 currentColor;">Magnesium</span>
<span style="left:637.49px;top:783.00px;font-size:29.65px;transform:scaleX(0.8026);text-shadow:0.36px 0 0 currentColor;">150.00mg</span>
<span style="left:871.48px;top:783.00px;font-size:29.65px;transform:scaleX(0.8242);text-shadow:0.36px 0 0 currentColor;">500.00mg</span>
<span style="left:1051.58px;top:783.00px;font-size:29.65px;transform:scaleX(0.8199);text-shadow:0.36px 0 0 currentColor;">34.09%</span>
<span style="left:361.70px;top:831.30px;font-size:23.26px;transform:scaleX(0.9172);text-shadow:0.28px 0 0 currentColor;">%</span>
<span style="left:387.44px;top:831.30px;font-size:23.26px;transform:scaleX(0.8640);word-spacing:2.11px;text-shadow:0.28px 0 0 currentColor;">RDA values per serving established by ICMR 2020, Men–Moderate work and FSS</span>
<span style="left:387.44px;top:854.20px;font-size:23.26px;transform:scaleX(0.8644);text-shadow:0.28px 0 0 currentColor;">Labelling and Display Regulation 2020.</span>
<span style="left:361.70px;top:880.20px;font-size:23.26px;transform:scaleX(0.9172);text-shadow:0.28px 0 0 currentColor;">%</span>
<span style="left:387.44px;top:880.20px;font-size:23.26px;transform:scaleX(0.8622);text-shadow:0.28px 0 0 currentColor;">RDA values per serving based on expressed on 2000 kcal diet for average adult.</span>
<span style="left:362.50px;top:908.80px;font-size:15.79px;font-weight:700;transform:scaleX(1.2562);">**</span>
<span style="left:389.10px;top:906.00px;font-size:23.26px;transform:scaleX(0.8663);text-shadow:0.28px 0 0 currentColor;">%RDA values not established.</span>
<span style="left:553.20px;top:971.10px;font-size:38.37px;transform:scaleX(0.8195);letter-spacing:4.5px;text-shadow:1.92px 0 0 currentColor;">AMINO ACID PROFILE</span>
<span style="left:950.96px;top:970.30px;font-size:18.38px;font-weight:700;transform:scaleX(1.2355);">‡‡</span>
<span style="left:366.09px;top:1022.50px;font-size:26.16px;font-weight:700;transform:scaleX(0.9088);letter-spacing:1px;text-shadow:0.78px 0 0 currentColor;">ESSENTIAL</span>
<span style="left:366.20px;top:1050.60px;font-size:26.16px;font-weight:700;transform:scaleX(0.8922);letter-spacing:1px;text-shadow:0.78px 0 0 currentColor;">AMINO ACIDS</span>
<span style="left:574.11px;top:1022.50px;font-size:26.16px;font-weight:700;transform:scaleX(0.8885);letter-spacing:1px;text-shadow:0.78px 0 0 currentColor;">CONDITIONALLY</span>
<span style="left:574.10px;top:1050.60px;font-size:26.16px;font-weight:700;transform:scaleX(0.9029);letter-spacing:1px;text-shadow:0.78px 0 0 currentColor;">ESSENTIAL AMINO ACIDS</span>
<span style="left:932.10px;top:1022.50px;font-size:26.16px;font-weight:700;transform:scaleX(0.9050);letter-spacing:1px;text-shadow:0.78px 0 0 currentColor;">NON ESSENTIAL</span>
<span style="left:932.20px;top:1050.60px;font-size:26.16px;font-weight:700;transform:scaleX(0.8965);letter-spacing:1px;text-shadow:0.78px 0 0 currentColor;">AMINO ACIDS</span>
<span style="left:365.12px;top:1092.60px;font-size:26.16px;transform:scaleX(0.9378);letter-spacing:1.0px;text-shadow:0.52px 0 0 currentColor;">Isoleucine</span>
<span style="left:365.13px;top:1122.45px;font-size:26.16px;transform:scaleX(0.9341);letter-spacing:1.0px;text-shadow:0.52px 0 0 currentColor;">Leucine</span>
<span style="left:367.00px;top:1152.30px;font-size:26.16px;transform:scaleX(0.9070);letter-spacing:1.0px;text-shadow:0.52px 0 0 currentColor;">Valine</span>
<span style="left:365.11px;top:1182.15px;font-size:26.16px;transform:scaleX(0.9444);letter-spacing:1.0px;text-shadow:0.52px 0 0 currentColor;">Lysine</span>
<span style="left:365.11px;top:1212.00px;font-size:26.16px;transform:scaleX(0.9434);letter-spacing:1.0px;text-shadow:0.52px 0 0 currentColor;">Methionine</span>
<span style="left:364.80px;top:1241.85px;font-size:26.16px;transform:scaleX(0.9483);letter-spacing:1.0px;text-shadow:0.52px 0 0 currentColor;">Phenylalanine</span>
<span style="left:366.70px;top:1271.70px;font-size:26.16px;transform:scaleX(0.9328);letter-spacing:1.0px;text-shadow:0.52px 0 0 currentColor;">Threonine</span>
<span style="left:366.70px;top:1301.55px;font-size:26.16px;transform:scaleX(0.9424);letter-spacing:1.0px;text-shadow:0.52px 0 0 currentColor;">Tryptophan</span>
<span style="left:365.09px;top:1331.40px;font-size:26.16px;transform:scaleX(0.9531);letter-spacing:1.0px;text-shadow:0.52px 0 0 currentColor;">Histidine</span>
<span style="left:575.00px;top:1092.60px;font-size:26.16px;transform:scaleX(0.9452);letter-spacing:1.0px;text-shadow:0.52px 0 0 currentColor;">Arginine</span>
<span style="left:574.49px;top:1122.45px;font-size:26.16px;transform:scaleX(0.9059);letter-spacing:1.0px;text-shadow:0.52px 0 0 currentColor;">Cysteine</span>
<span style="left:574.49px;top:1152.30px;font-size:26.16px;transform:scaleX(0.9068);letter-spacing:1.0px;text-shadow:0.52px 0 0 currentColor;">Glycine</span>
<span style="left:574.09px;top:1182.15px;font-size:26.16px;transform:scaleX(0.9567);letter-spacing:1.0px;text-shadow:0.52px 0 0 currentColor;">Proline</span>
<span style="left:575.00px;top:1212.00px;font-size:26.16px;transform:scaleX(0.9355);letter-spacing:1.0px;text-shadow:0.52px 0 0 currentColor;">Tyrosine</span>
<span style="left:931.05px;top:1092.60px;font-size:26.16px;transform:scaleX(0.9462);letter-spacing:1.0px;text-shadow:0.52px 0 0 currentColor;">Serine</span>
<span style="left:931.70px;top:1122.45px;font-size:26.16px;transform:scaleX(0.9396);letter-spacing:1.0px;text-shadow:0.52px 0 0 currentColor;">Alanine</span>
<span style="left:931.70px;top:1152.30px;font-size:26.16px;transform:scaleX(0.9431);letter-spacing:1.0px;text-shadow:0.52px 0 0 currentColor;">Aspartic Acid</span>
<span style="left:931.37px;top:1182.15px;font-size:26.16px;transform:scaleX(0.9339);letter-spacing:1.0px;text-shadow:0.52px 0 0 currentColor;">Glutamic Acid</span>
<span style="left:364.77px;top:1366.00px;font-size:26.16px;transform:scaleX(0.9268);letter-spacing:1.0px;text-shadow:0.52px 0 0 currentColor;">~11 g*</span>
<span style="left:573.50px;top:1366.00px;font-size:26.16px;transform:scaleX(0.8978);letter-spacing:1.0px;text-shadow:0.52px 0 0 currentColor;">~5 g*</span>
<span style="left:930.51px;top:1366.00px;font-size:26.16px;transform:scaleX(0.8932);letter-spacing:1.0px;text-shadow:0.52px 0 0 currentColor;">~8 g*</span>
<span style="left:365.70px;top:1403.90px;font-size:9.25px;font-weight:700;transform:scaleX(1.0449);">‡‡</span>
<span style="left:378.50px;top:1405.00px;font-size:18.31px;transform:scaleX(1.1481);letter-spacing:0.6px;text-shadow:0.37px 0 0 currentColor;">Above amino acid profile reflects average values per serving of the naturally</span>
<span style="left:365.70px;top:1425.50px;font-size:18.31px;transform:scaleX(1.1580);letter-spacing:0.6px;text-shadow:0.37px 0 0 currentColor;">occurring content from whey protein sources.</span>
</div>
</body></html>
